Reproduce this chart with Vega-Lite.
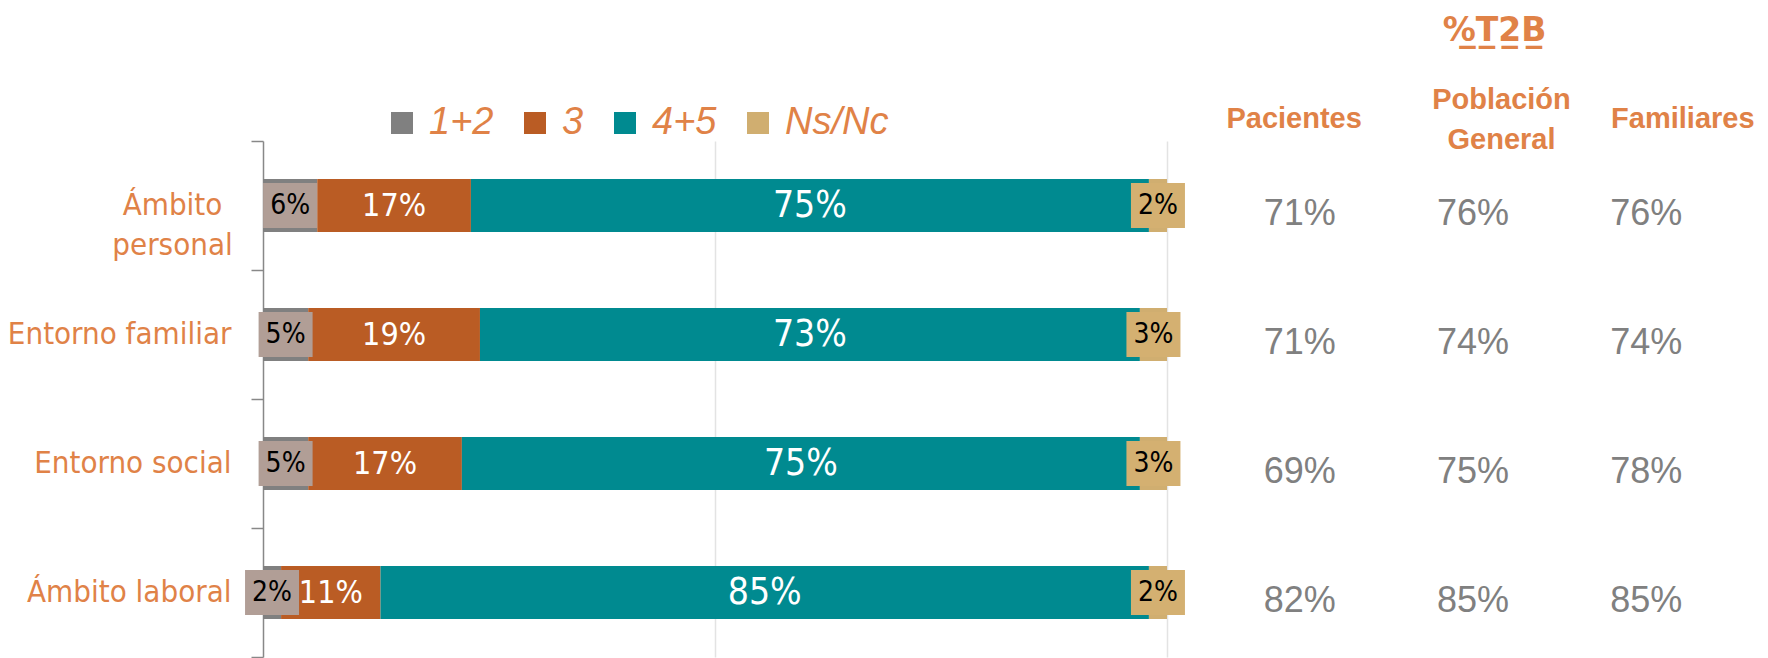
{
  "$schema": "https://vega.github.io/schema/vega-lite/v6.json",
  "width": 1470,
  "height": 516,
  "padding": {"left": 5, "top": 14, "right": 5, "bottom": 0},
  "background": "white",
  "config": {"view": {"stroke": null}, "font": "Liberation Sans"},
  "datasets": {
    "seg": [
      {"cat": "Ámbito personal", "seg": "1+2", "v": 0.06},
      {"cat": "Ámbito personal", "seg": "3", "v": 0.17},
      {"cat": "Ámbito personal", "seg": "4+5", "v": 0.75},
      {"cat": "Ámbito personal", "seg": "Ns/Nc", "v": 0.02},
      {"cat": "Entorno familiar", "seg": "1+2", "v": 0.05},
      {"cat": "Entorno familiar", "seg": "3", "v": 0.19},
      {"cat": "Entorno familiar", "seg": "4+5", "v": 0.73},
      {"cat": "Entorno familiar", "seg": "Ns/Nc", "v": 0.03},
      {"cat": "Entorno social", "seg": "1+2", "v": 0.05},
      {"cat": "Entorno social", "seg": "3", "v": 0.17},
      {"cat": "Entorno social", "seg": "4+5", "v": 0.75},
      {"cat": "Entorno social", "seg": "Ns/Nc", "v": 0.03},
      {"cat": "Ámbito laboral", "seg": "1+2", "v": 0.02},
      {"cat": "Ámbito laboral", "seg": "3", "v": 0.11},
      {"cat": "Ámbito laboral", "seg": "4+5", "v": 0.85},
      {"cat": "Ámbito laboral", "seg": "Ns/Nc", "v": 0.02}
    ],
    "t2b": [
      {"cat": "Ámbito personal", "grp": "Pacientes", "v": 0.71},
      {"cat": "Ámbito personal", "grp": "Población General", "v": 0.76},
      {"cat": "Ámbito personal", "grp": "Familiares", "v": 0.76},
      {"cat": "Entorno familiar", "grp": "Pacientes", "v": 0.71},
      {"cat": "Entorno familiar", "grp": "Población General", "v": 0.74},
      {"cat": "Entorno familiar", "grp": "Familiares", "v": 0.74},
      {"cat": "Entorno social", "grp": "Pacientes", "v": 0.69},
      {"cat": "Entorno social", "grp": "Población General", "v": 0.75},
      {"cat": "Entorno social", "grp": "Familiares", "v": 0.78},
      {"cat": "Ámbito laboral", "grp": "Pacientes", "v": 0.82},
      {"cat": "Ámbito laboral", "grp": "Población General", "v": 0.85},
      {"cat": "Ámbito laboral", "grp": "Familiares", "v": 0.85}
    ]
  },
  "encoding": {
    "y": {
      "field": "cat",
      "type": "nominal",
      "scale": {
        "domain": ["Ámbito personal", "Entorno familiar", "Entorno social", "Ámbito laboral"],
        "paddingInner": 0,
        "paddingOuter": 0
      },
      "axis": {
        "title": null,
        "grid": false,
        "domainColor": "#888888",
        "domainWidth": 1.5,
        "tickColor": "#888888",
        "tickWidth": 1.5,
        "tickSize": 12,
        "tickBand": "extent",
        "labelFont": "Liberation Sans Narrow, DejaVu Sans Condensed, Liberation Sans",
        "labelFontSize": 31,
        "labelColor": "#E08247",
        "labelAlign": {
          "condition": {"test": "datum.value === 'Ámbito personal'", "value": "center"},
          "value": "right"
        },
        "labelPadding": {
          "condition": {"test": "datum.value === 'Ámbito personal'", "value": 79},
          "value": 20
        },
        "labelLimit": 400,
        "labelLineHeight": 40,
        "labelExpr": "datum.label === 'Ámbito personal' ? ['Ámbito', 'personal'] : datum.label",
        "minExtent": 258,
        "maxExtent": 258
      }
    }
  },
  "layer": [
    {
      "data": {"name": "seg"},
      "transform": [
        {"stack": "v", "groupby": ["cat"], "sort": [{"field": "seg", "order": "ascending"}], "as": ["x0", "x1"]},
        {"calculate": "(datum.x0 + datum.x1) / 2", "as": "xm"}
      ],
      "layer": [
        {
          "mark": {"type": "bar", "height": {"band": 0.41}},
          "encoding": {
            "x": {
              "field": "x0",
              "type": "quantitative",
              "scale": {"domain": [0, 1], "range": [0, 904], "nice": false, "zero": false},
              "axis": {
                "orient": "bottom",
                "values": [0.5, 1],
                "labels": false,
                "ticks": false,
                "domain": false,
                "title": null,
                "grid": true,
                "gridColor": "#E3E3E3",
                "gridWidth": 1.5
              }
            },
            "x2": {"field": "x1"},
            "color": {
              "field": "seg",
              "type": "nominal",
              "scale": {
                "domain": ["1+2", "3", "4+5", "Ns/Nc"],
                "range": ["#808080", "#BA5C24", "#008A90", "#D0AE70"]
              },
              "legend": {
                "orient": "none",
                "legendX": 120,
                "legendY": -37,
                "direction": "horizontal",
                "title": null,
                "symbolType": "square",
                "symbolSize": 484,
                "symbolStrokeWidth": 0,
                "symbolOpacity": 1,
                "labelFont": "Liberation Sans",
                "labelFontStyle": "italic",
                "labelFontSize": 38,
                "labelColor": "#E08247",
                "labelOffset": 8,
                "columnPadding": 22,
                "padding": 0,
                "labelLimit": 300
              }
            }
          }
        },
        {
          "transform": [{"filter": "datum.seg === '1+2' || datum.seg === 'Ns/Nc'"}],
          "mark": {
            "type": "point",
            "shape": "M-1.2,-1L1.2,-1L1.2,1L-1.2,1Z",
            "filled": true,
            "opacity": 1,
            "size": 2025,
            "strokeWidth": 0
          },
          "encoding": {
            "x": {"field": "xm", "type": "quantitative"},
            "fill": {
              "condition": {"test": "datum.seg === '1+2'", "value": "#B19E96"},
              "value": "#D4B071"
            }
          }
        },
        {
          "mark": {
            "type": "text",
            "font": "Liberation Sans Narrow, DejaVu Sans Condensed, Liberation Sans",
            "baseline": "middle",
            "align": "center"
          },
          "encoding": {
            "x": {"field": "xm", "type": "quantitative"},
            "text": {"field": "v", "type": "quantitative", "format": ".0%"},
            "color": {
              "condition": {"test": "datum.seg === '1+2' || datum.seg === 'Ns/Nc'", "value": "#000000"},
              "value": "#FFFFFF"
            },
            "size": {
              "condition": [
                {"test": "datum.seg === '4+5'", "value": 37},
                {"test": "datum.seg === '3'", "value": 32}
              ],
              "value": 28
            }
          }
        }
      ]
    },
    {
      "data": {"name": "t2b"},
      "mark": {
        "type": "text",
        "font": "Liberation Sans",
        "fontSize": 36,
        "color": "#808080",
        "baseline": "middle",
        "align": "center",
        "dy": 8
      },
      "encoding": {
        "x": {
          "field": "grp",
          "type": "nominal",
          "scale": {"domain": ["Pacientes", "Población General", "Familiares"], "range": [950, 1470]},
          "axis": {
            "orient": "top",
            "domain": false,
            "ticks": false,
            "grid": false,
            "labelAngle": 0,
            "labelFont": "Liberation Sans",
            "labelFontWeight": "bold",
            "labelFontSize": 29,
            "labelColor": "#E08247",
            "labelBaseline": {
              "condition": {"test": "datum.value === 'Población General'", "value": "middle"},
              "value": "line-top"
            },
            "labelOffset": {
              "condition": [
                {"test": "datum.value === 'Pacientes'", "value": -6},
                {"test": "datum.value === 'Familiares'", "value": 36}
              ],
              "value": 28
            },
            "labelPadding": 42,
            "labelLineHeight": 40,
            "labelLimit": 400,
            "labelExpr": "datum.label === 'Población General' ? ['Población', 'General'] : datum.label",
            "title": "%\u0332T\u03322\u0332B\u0332",
            "titleFont": "DejaVu Sans",
            "titleFontWeight": "bold",
            "titleFontSize": 33,
            "titleColor": "#E08247",
            "titlePadding": 38,
            "titleX": 1231
          }
        },
        "text": {"field": "v", "type": "quantitative", "format": ".0%"}
      }
    }
  ],
  "resolve": {"scale": {"x": "independent"}, "axis": {"x": "independent"}}
}
